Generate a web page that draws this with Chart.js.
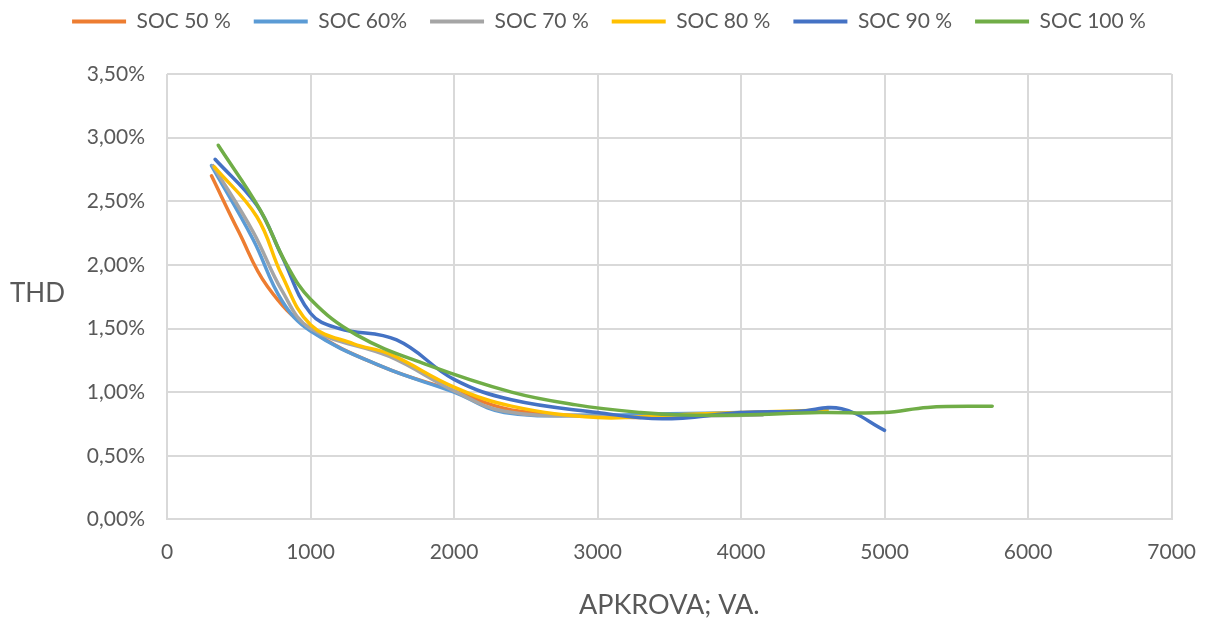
<!DOCTYPE html>
<html>
<head>
<meta charset="utf-8">
<script src="https://cdn.jsdelivr.net/npm/chart.js@4"></script>
<style>
  html, body { margin: 0; padding: 0; background: #ffffff; }
  #wrap { width: 1216px; height: 618px; }
</style>
</head>
<body>
<div id="wrap"><canvas id="c" width="1216" height="618"></canvas></div>
<script>
// THD against inverter load for different battery states of charge
const seriesNames = ['SOC 50 %', 'SOC 60%', 'SOC 70 %', 'SOC 80 %', 'SOC 90 %', 'SOC 100 %'];
const seriesColors = ['#ED7D31', '#5B9BD5', '#A5A5A5', '#FFC000', '#4472C4', '#70AD47'];

// load, VA
const load50  = [310, 500, 700, 1000, 1500, 2000, 2400, 3000, 3300];
const load60  = [310, 600, 800, 1000, 1500, 2000, 2350, 3000, 3500, 4000];
const load70  = [320, 600, 800, 1000, 1550, 2000, 2350, 3000, 3500, 4150];
const load80  = [330, 625, 800, 1000, 1300, 1550, 2000, 2400, 3000, 3500, 4000, 4600];
const load90  = [335, 625, 800, 1000, 1200, 1600, 2000, 2400, 3000, 3450, 4000, 4400, 4700, 5000];
const load100 = [357, 650, 830, 1000, 1320, 1800, 2400, 2850, 3300, 3600, 4000, 4550, 5000, 5300, 5750];

// THD, %
const thd50  = [2.70, 2.26, 1.83, 1.49, 1.20, 1.01, 0.86, 0.81, 0.80];
const thd60  = [2.78, 2.20, 1.72, 1.48, 1.20, 1.00, 0.84, 0.82, 0.83, 0.84];
const thd70  = [2.78, 2.26, 1.80, 1.50, 1.28, 1.01, 0.85, 0.81, 0.81, 0.82];
const thd80  = [2.77, 2.38, 1.92, 1.53, 1.38, 1.30, 1.04, 0.89, 0.80, 0.82, 0.84, 0.86];
const thd90  = [2.83, 2.47, 2.07, 1.62, 1.50, 1.41, 1.10, 0.94, 0.84, 0.79, 0.84, 0.85, 0.87, 0.70];
const thd100 = [2.94, 2.43, 2.01, 1.73, 1.45, 1.22, 1.00, 0.90, 0.84, 0.82, 0.82, 0.84, 0.84, 0.88, 0.89];

const loads = [load50, load60, load70, load80, load90, load100];
const thds  = [thd50, thd60, thd70, thd80, thd90, thd100];

const xTitle = 'APKROVA; VA.';
const yTitle = 'THD';

const textColor = '#595959';
const gridColor = '#D9D9D9';
const fontFamily = 'Lato, "Open Sans", "Liberation Sans", sans-serif';

const datasets = seriesNames.map((name, i) => ({
  label: name,
  data: loads[i].map((x, k) => ({ x: x, y: thds[i][k] })),
  borderColor: seriesColors[i],
  backgroundColor: seriesColors[i],
  borderWidth: 3.5,
  pointRadius: 0,
  pointHoverRadius: 0,
  tension: 0.4,
  fill: false,
  borderCapStyle: 'round',
  borderJoinStyle: 'round',
  order: seriesNames.length - i
}));

// horizontal y-axis title on the left
const yTitlePlugin = {
  id: 'yTitleLeft',
  afterDraw(chart) {
    const ctx = chart.ctx;
    const area = chart.chartArea;
    ctx.save();
    ctx.font = '26px ' + fontFamily;
    ctx.fillStyle = textColor;
    ctx.textAlign = 'left';
    ctx.textBaseline = 'middle';
    ctx.fillText(yTitle, 10, (area.top + area.bottom) / 2 - 3);
    ctx.restore();
  }
};

// extra space between the legend row and the plot area
const legendGapPlugin = {
  id: 'legendGap',
  afterInit(chart) {
    const legend = chart.legend;
    if (!legend) return;
    const baseFit = legend.fit.bind(legend);
    legend.fit = function () {
      baseFit();
      this.height += 32;
    };
  }
};

new Chart(document.getElementById('c'), {
  type: 'line',
  data: { datasets: datasets },
  plugins: [yTitlePlugin, legendGapPlugin],
  options: {
    responsive: false,
    animation: false,
    devicePixelRatio: 1,
    layout: { padding: { left: 46, right: 44, top: -12, bottom: -3 } },
    plugins: {
      tooltip: { enabled: false },
      legend: {
        position: 'top',
        labels: {
          color: textColor,
          font: { family: fontFamily, size: 21 },
          boxWidth: 54,
          boxHeight: 4,
          padding: 23,
          generateLabels(chart) {
            return chart.data.datasets.map((ds, i) => ({
              text: ds.label,
              fillStyle: ds.borderColor,
              strokeStyle: ds.borderColor,
              lineWidth: 0,
              hidden: false,
              datasetIndex: i,
              fontColor: textColor
            }));
          }
        }
      }
    },
    scales: {
      x: {
        type: 'linear',
        min: 0,
        max: 7000,
        ticks: {
          stepSize: 1000,
          color: textColor,
          font: { family: fontFamily, size: 21 },
          padding: 20,
          callback: v => String(v)
        },
        grid: { color: gridColor, lineWidth: 2, drawTicks: false },
        border: { color: gridColor, width: 2 },
        title: {
          display: true,
          text: xTitle,
          color: textColor,
          font: { family: fontFamily, size: 27 },
          padding: { top: 4, bottom: 0 }
        }
      },
      y: {
        min: 0,
        max: 3.5,
        afterFit(scale) { scale.width = 121; },
        ticks: {
          stepSize: 0.5,
          color: textColor,
          font: { family: fontFamily, size: 21 },
          padding: 22,
          callback: v => v.toFixed(2).replace('.', ',') + '%'
        },
        grid: { color: gridColor, lineWidth: 2, drawTicks: false },
        border: { display: false }
      }
    }
  }
});
</script>
</body>
</html>
